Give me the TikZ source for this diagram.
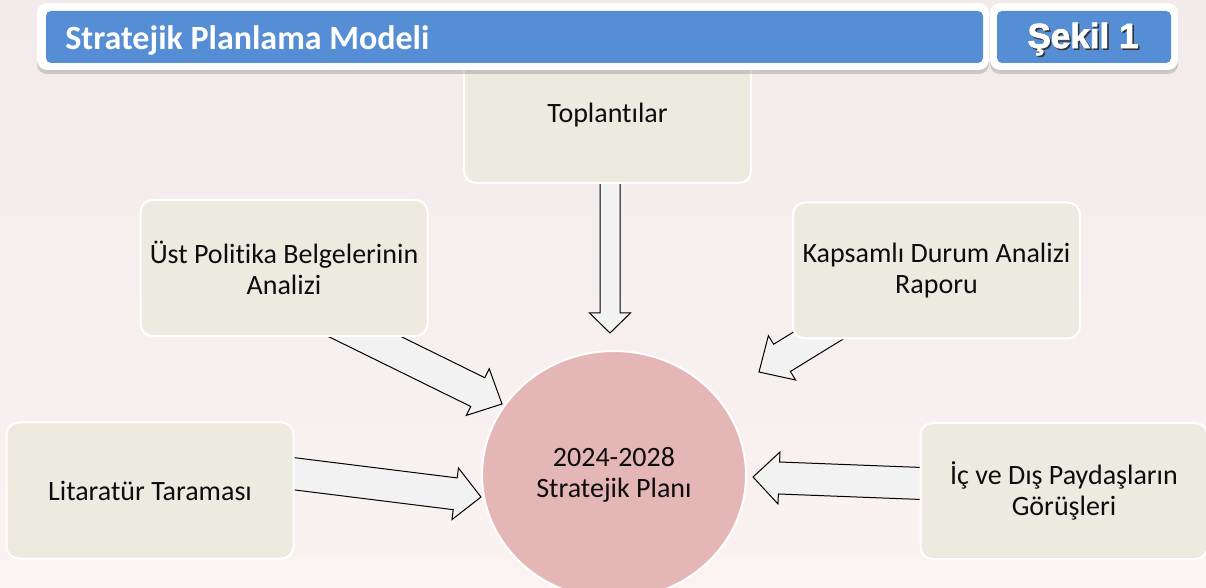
\documentclass[tikz,border=0pt]{standalone}
\usepackage{fontspec}
\setmainfont{Carlito}[Ligatures={TeX,NoCommon}]
\newfontfamily\sekilfont{Liberation Sans}[BoldFont={Liberation Sans Bold},BoldFeatures={FakeBold=2}]
\usetikzlibrary{calc,shapes.geometric,shadows}

\definecolor{bgtop}{RGB}{243,234,234}
\definecolor{bgbottom}{RGB}{250,243,242}
\definecolor{boxfill}{RGB}{237,235,224}
\definecolor{planfill}{RGB}{229,182,182}
\definecolor{headblue}{RGB}{85,142,213}
\definecolor{arrowfill}{RGB}{242,242,242}

% block arrow: tail, tip, shaft half width, head half width, head length
\newcommand{\blockarrow}[5]{%
  \draw[arrowshape] let \p1=(#1), \p2=(#2), \n1={atan2(\y2-\y1,\x2-\x1)} in
    ($(\p1)+(\n1+90:#3)$) -- ($(\p2)+(\n1+180:#5)+(\n1+90:#3)$)
    -- ($(\p2)+(\n1+180:#5)+(\n1+90:#4)$) -- (\p2)
    -- ($(\p2)+(\n1+180:#5)+(\n1-90:#4)$) -- ($(\p2)+(\n1+180:#5)+(\n1-90:#3)$)
    -- ($(\p1)+(\n1-90:#3)$) -- cycle;
}

\begin{document}
\begin{tikzpicture}[x=0.5pt,y=-0.5pt,
  stepbox/.style={rectangle, rounded corners=6pt, draw=white, line width=1pt,
    fill=boxfill, minimum width=143.5pt, minimum height=68pt, align=center,
    font=\fontsize{14}{15.5}\selectfont, text=black!95},
  plan/.style={ellipse, draw=white, line width=1pt, fill=planfill,
    minimum width=132pt, minimum height=124pt, align=center,
    font=\fontsize{14}{15.5}\selectfont, text=black!95},
  arrowshape/.style={draw=black, fill=arrowfill, line width=0.5pt, line join=miter},
  headbox/.style={fill=white, rounded corners=5pt,
    drop shadow={shadow xshift=0pt, shadow yshift=-2pt, opacity=0.35}},
  headbar/.style={fill=headblue, rounded corners=2.5pt}]

\clip (0,0) rectangle (1206,588);
\shade[top color=bgtop, bottom color=bgbottom] (0,0) rectangle (1206,588);

% Arrow ends
\coordinate (topTail) at (610,180);
\coordinate (topTip) at (610,333);
\coordinate (ustTail) at (329,319);
\coordinate (ustTip) at (502,404);
\coordinate (kapTail) at (842,321);
\coordinate (kapTip) at (759,372);
\coordinate (litTail) at (280,472);
\coordinate (litTip) at (481,497);
\coordinate (icTail) at (935,484);
\coordinate (icTip) at (753,477);

% Arrows
\blockarrow{topTail}{topTip}{5pt}{10.25pt}{10pt}
\blockarrow{ustTail}{ustTip}{8pt}{13pt}{13.5pt}
\blockarrow{kapTail}{kapTip}{8pt}{13pt}{13.5pt}
\blockarrow{litTail}{litTip}{8pt}{13pt}{13pt}
\blockarrow{icTail}{icTip}{8pt}{13pt}{13pt}

% Boxes
\node[stepbox] (top) at (607.5,115) {Toplantılar};
\node[stepbox] (ust) at (284,268) {Üst Politika Belgelerinin\\Analizi};
\node[stepbox] (kap) at (936.5,270.5) {Kapsamlı Durum Analizi\\Raporu};
\node[stepbox] (lit) at (150,490.5) {Litaratür Taraması};
\node[stepbox] (ic) at (1064,491) {İç ve Dış Paydaşların\\Görüşleri};

% Centre
\node[plan] (plan) at (614,475) {2024-2028\\Stratejik Planı};

% Header
\fill[headbox] (37,3) rectangle (989,70);
\fill[headbar] (46,11) rectangle (983,63);
\node[anchor=west, inner sep=0pt, text=white,
  font=\fontsize{17}{20}\selectfont\bfseries] (title) at (65,40) {Stratejik Planlama Modeli};

\fill[headbox] (990,3) rectangle (1178,70);
\fill[headbar] (997,11) rectangle (1171,63);
\node[text=black!80, font=\fontsize{17.5}{20}\sekilfont\bfseries] (sekilshade) at (1084.5,40.5) {Şekil 1};
\node[text=white, font=\fontsize{17.5}{20}\sekilfont\bfseries] (sekil) at (1083,39) {Şekil 1};

\end{tikzpicture}
\end{document}
